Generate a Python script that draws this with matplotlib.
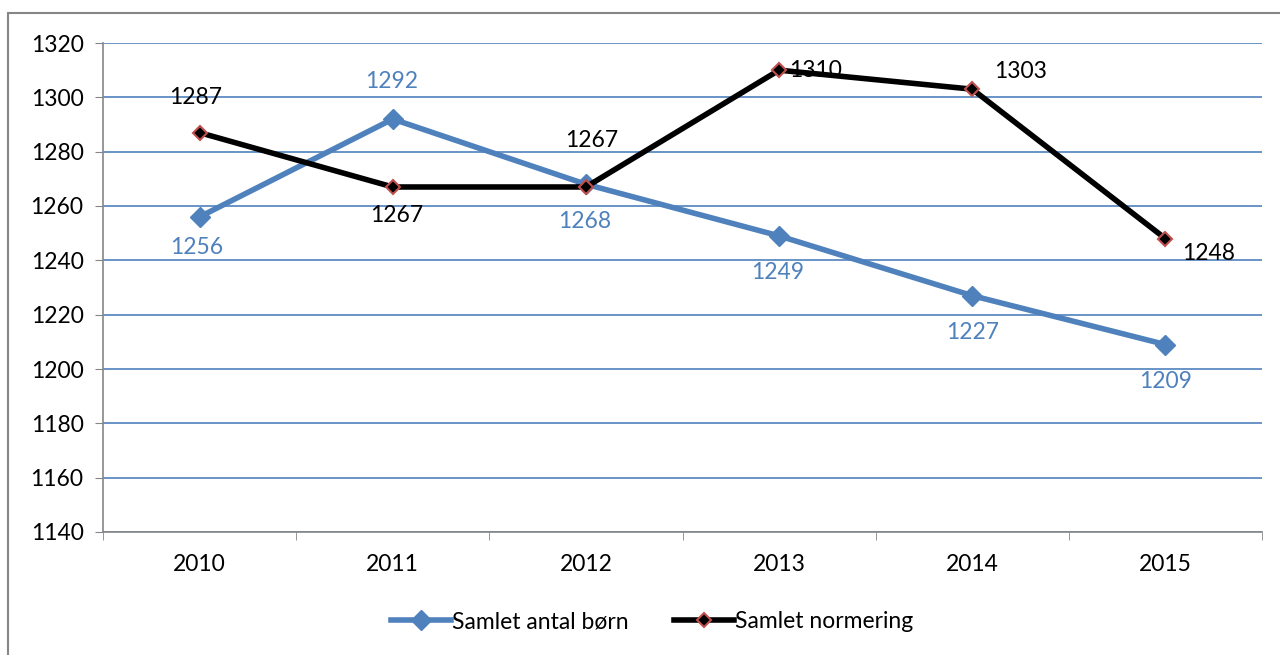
import matplotlib
matplotlib.use("Agg")
import matplotlib.pyplot as plt
from matplotlib.patches import Rectangle

plt.rcParams['font.family'] = ['Lato', 'DejaVu Sans']

years = ["2010", "2011", "2012", "2013", "2014", "2015"]
born = [1256, 1292, 1268, 1249, 1227, 1209]
normering = [1287, 1267, 1267, 1310, 1303, 1248]
yticks = [1140, 1160, 1180, 1200, 1220, 1240, 1260, 1280, 1300, 1320]

BLUE = "#4F81BD"
RED = "#C0504D"
FS = 16.5
W, H = 1280, 655
fig = plt.figure(figsize=(W / 100, H / 100), dpi=100)
ax = fig.add_axes([103 / W, 1 - 532 / H, (1262 - 103) / W, (532 - 43) / H])

x = list(range(len(years)))
ax.plot(x, born, color=BLUE, lw=4, marker="D", ms=10, mfc=BLUE, mec=BLUE,
        label="Samlet antal børn", zorder=3, solid_joinstyle="round")
ax.plot(x, normering, color="black", lw=4, marker="D", ms=7, mfc="black", mec=RED,
        mew=1.5, label="Samlet normering", zorder=4, solid_joinstyle="round")

ax.set_xlim(-0.5, len(years) - 0.5)
ax.set_ylim(1140, 1320)
ax.set_yticks(yticks)
ax.set_xticks(x)
ax.set_xticklabels(years)
ax.set_xticks([i - 0.5 for i in range(len(years) + 1)], minor=True)
ax.tick_params(axis="x", which="major", length=0, pad=16, labelsize=FS)
ax.tick_params(axis="x", which="minor", length=6, color="#868686", direction="out")
ax.tick_params(axis="y", length=6, color="#868686", labelsize=FS, pad=8)
ax.grid(axis="y", color=BLUE, lw=1.2)
ax.set_axisbelow(True)
for s in ["top", "right"]:
    ax.spines[s].set_visible(False)
for s in ["left", "bottom"]:
    ax.spines[s].set_color("#868686")
    ax.spines[s].set_linewidth(1.2)

boff = [(-3, -31), (-1, 38), (-1, -37), (-1, -37), (0, -37), (0, -37)]
for i, v in enumerate(born):
    dx, dy = boff[i]
    ax.annotate(str(v), (i, v), xytext=(dx * 0.72, dy * 0.72), textcoords="offset points",
                ha="center", va="center", color=BLUE, fontsize=FS, zorder=5)
noff = [(-4, 35), (4, -29), (6, 46), (36, 0), (48, 18), (43, -15)]
for i, v in enumerate(normering):
    dx, dy = noff[i]
    ax.annotate(str(v), (i, v), xytext=(dx * 0.72, dy * 0.72), textcoords="offset points",
                ha="center", va="center", color="black", fontsize=FS, zorder=5)

leg = fig.legend(loc="center", bbox_to_anchor=(652 / W, 1 - 622 / H), ncol=2, frameon=False,
                 fontsize=FS, handlelength=2.6, handletextpad=0.05, columnspacing=2.0)

fig.patches.append(Rectangle((8 / W, -0.1), 1.2, 1.1 - 13 / H, transform=fig.transFigure,
                             fill=False, edgecolor="#868686", lw=1.5))

fig.savefig("out.png", dpi=100)
